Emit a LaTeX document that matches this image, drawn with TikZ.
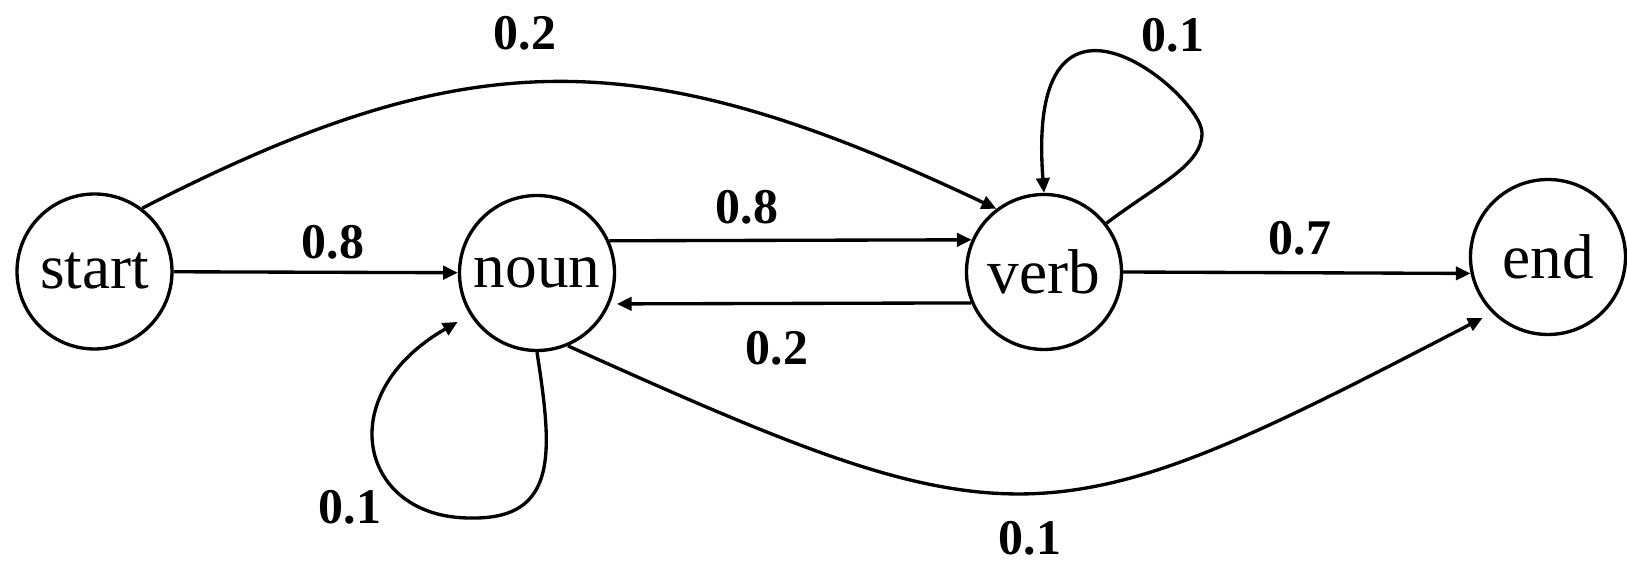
\documentclass[tikz,border=0pt]{standalone}
\usepackage{fontspec}
\setmainfont{Liberation Serif}
\usetikzlibrary{arrows.meta}
\tikzset{
  state/.style={draw, circle, line width=0.95pt, minimum size=1.55cm, inner sep=0pt, font=\fontsize{18}{20}\selectfont},
  prob/.style={font=\fontsize{14.2}{16}\selectfont\bfseries, inner sep=0pt},
  trans/.style={line width=0.95pt, -{Triangle[length=4.2pt,width=3.8pt]}},
}

\begin{document}
\begin{tikzpicture}
\useasboundingbox (0,0) rectangle (16.27,5.63);
% States
\node[state] (start) at (0.945,2.915) {start};
\node[state] (noun) at (5.37,2.90) {noun};
\node[state] (verb) at (10.44,2.91) {verb};
\node[state] (end) at (15.48,3.06) {end};

% Straight transitions
\draw[trans] (start) -- (noun);
\draw[trans] (noun.24) -- (verb.156);
\draw[trans, shorten >=2pt] (verb.203) -- (noun.-23);
\draw[trans] (verb.east) -- (end.192);

% Curved transitions
\draw[trans] (start.53) .. controls (4.70,5.23) and (6.40,5.23) .. (verb.127);
\draw[trans, shorten >=3pt] (noun.-67) .. controls (10.18,0.145) and (10.46,0.18) .. (end.225);

% Self loops
\draw[trans] (verb.38) .. controls (11.60,3.80) and (12.02,3.98) .. (12.02,4.30)
  .. controls (12.02,4.68) and (10.25,6.18) .. (verb.90);
\draw[trans, shorten >=4pt] (noun.south) .. controls (5.52,1.13) and (5.60,0.43) .. (4.70,0.45)
  .. controls (3.60,0.45) and (3.30,1.68) .. (noun.212);

% Probabilities
\node[prob] (p-sv) at (5.25,5.30) {0.2};
\node[prob] (p-sn) at (3.33,3.21) {0.8};
\node[prob] (p-nv) at (7.47,3.56) {0.8};
\node[prob] (p-vn) at (7.77,2.15) {0.2};
\node[prob] (p-ve) at (13.00,3.25) {0.7};
\node[prob] (p-vv) at (11.73,5.28) {0.1};
\node[prob] (p-nn) at (3.50,0.56) {0.1};
\node[prob] (p-ne) at (10.30,0.25) {0.1};
\end{tikzpicture}
\end{document}
